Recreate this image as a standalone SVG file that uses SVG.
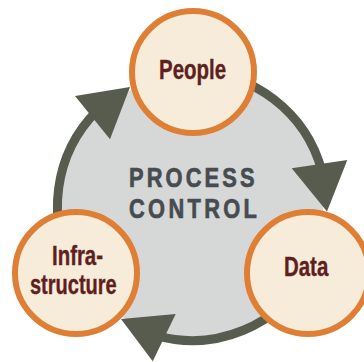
<svg xmlns="http://www.w3.org/2000/svg" width="364" height="362" viewBox="0 0 364 362">
  <style>
    .ring { fill: none; stroke: #575C4E; stroke-width: 9; }
    .head { fill: #575C4E; }
    .node circle { fill: #F7ECDA; stroke: #DF7F35; stroke-width: 6; }
    .label { font-family: "Liberation Sans", Arial, sans-serif; font-weight: bold; font-size: 27px; fill: #5F1F1E; stroke: #5F1F1E; stroke-width: 0.4; }
    .title { font-family: "Liberation Sans", Arial, sans-serif; font-weight: bold; font-size: 28px; fill: #464C50; stroke: #464C50; stroke-width: 0.7; }
  </style>
  <rect width="364" height="362" fill="#FFFFFF"/>

  <!-- central disc -->
  <g id="process-control">
    <circle cx="192" cy="206" r="131" fill="#D6D8D8"/>
    <!-- condensed lettering: squeeze horizontally, then spread the letters -->
    <g transform="translate(129 0) scale(0.78 1)">
      <text class="title" x="0" y="187.5" textLength="161" lengthAdjust="spacing">PROCESS</text>
      <text class="title" x="0" y="218.5" textLength="164" lengthAdjust="spacing">CONTROL</text>
    </g>
  </g>

  <!-- cycle arrows -->
  <g id="connectors">
    <path class="ring" d="M192 71.5 A134.5 134.5 0 0 1 321.9 171.2"/>
    <polygon class="head" points="291.7,168.3 347.3,160 327,211.5"/>
    <path class="ring" d="M308.5 273.3 A134.5 134.5 0 0 1 157.2 335.9"/>
    <polygon class="head" points="121,319 175.7,314 152.7,361.3"/>
    <path class="ring" d="M75.5 273.3 A134.5 134.5 0 0 1 96.9 110.9"/>
    <polygon class="head" points="75,96 130,87 110,139.3"/>
  </g>

  <g id="people" class="node">
    <circle cx="193" cy="72" r="61"/>
    <text class="label" x="159" y="79" textLength="67" lengthAdjust="spacingAndGlyphs">People</text>
  </g>

  <g id="data" class="node">
    <circle cx="308" cy="273" r="61"/>
    <text class="label" x="284" y="276" textLength="44.3" lengthAdjust="spacingAndGlyphs">Data</text>
  </g>

  <g id="infrastructure" class="node">
    <circle cx="76" cy="273" r="61"/>
    <text class="label" x="52" y="265" textLength="51" lengthAdjust="spacingAndGlyphs">Infra-</text>
    <text class="label" x="30" y="294" textLength="86.7" lengthAdjust="spacingAndGlyphs">structure</text>
  </g>
</svg>
